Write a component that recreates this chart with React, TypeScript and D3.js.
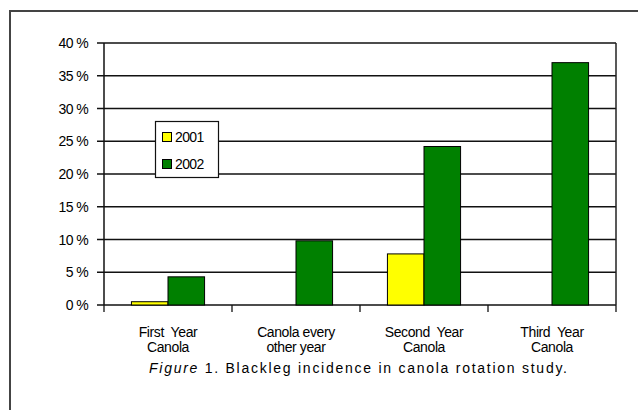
import React, { useRef, useEffect } from 'react';
import * as d3 from 'd3';

const categories = [
  ['First  Year', 'Canola'],
  ['Canola every', 'other year'],
  ['Second  Year', 'Canola'],
  ['Third  Year', 'Canola'],
];
const seriesNames = ['2001', '2002'];
const values2001 = [0.5, 0, 7.8, 0];
const values2002 = [4.3, 9.8, 24.2, 37.0];
const yTicks = [0, 5, 10, 15, 20, 25, 30, 35, 40];
const colors = ['#ffff00', '#008000'];
const caption = 'Blackleg incidence in canola rotation study.';

const W = 638;
const H = 410;
const FONT = 'Arial, "Liberation Sans", sans-serif';

const App = () => {
  const svgRef = useRef<SVGSVGElement>(null);

  useEffect(() => {
    const svg = d3.select(svgRef.current);
    svg.selectAll('*').remove();

    const left = 104, right = 616, top = 43, bottom = 305;

    const x = d3
      .scaleBand()
      .domain(categories.map((_, i) => String(i)))
      .range([left, right])
      .paddingInner(0)
      .paddingOuter(0);
    const inner = d3
      .scaleBand()
      .domain(seriesNames)
      .range([0, x.bandwidth()])
      .paddingInner(0)
      .paddingOuter(0.75);
    const y = d3.scaleLinear().domain([0, 40]).range([bottom, top]);

    // outer frame (top + left only)
    svg
      .append('path')
      .attr('d', `M10,${H} L10,11 L${W},11`)
      .attr('fill', 'none')
      .attr('stroke', '#444')
      .attr('stroke-width', 2);

    // gridlines
    svg
      .append('g')
      .selectAll('line')
      .data(yTicks)
      .join('line')
      .attr('x1', left - 7)
      .attr('x2', right)
      .attr('y1', d => y(d))
      .attr('y2', d => y(d))
      .attr('stroke', '#111')
      .attr('stroke-width', 1.3);

    // y labels
    svg
      .append('g')
      .selectAll('text')
      .data(yTicks)
      .join('text')
      .attr('x', 88)
      .attr('y', d => y(d))
      .attr('dy', '0.36em')
      .attr('text-anchor', 'end')
      .attr('font-family', FONT)
      .attr('font-size', 14)
      .attr('letter-spacing', -0.6)
      .text(d => `${d} %`);

    // bars
    const series = [values2001, values2002];
    series.forEach((vals, s) => {
      svg
        .append('g')
        .selectAll('rect')
        .data(vals.map((v, i) => ({ v, i })).filter(d => d.v > 0))
        .join('rect')
        .attr('x', d => (x(String(d.i)) as number) + (inner(seriesNames[s]) as number))
        .attr('width', inner.bandwidth())
        .attr('y', d => y(d.v))
        .attr('height', d => y(0) - y(d.v))
        .attr('fill', colors[s])
        .attr('stroke', '#000')
        .attr('stroke-width', 1);
    });

    // plot frame: left axis, right side
    svg
      .append('line')
      .attr('x1', left).attr('x2', left)
      .attr('y1', top).attr('y2', bottom)
      .attr('stroke', '#111').attr('stroke-width', 1.5);
    svg
      .append('line')
      .attr('x1', right).attr('x2', right)
      .attr('y1', top).attr('y2', bottom)
      .attr('stroke', '#222').attr('stroke-width', 1.5);

    // x ticks
    const xTickPos = categories.map((_, i) => x(String(i)) as number).concat([right]);
    svg
      .append('g')
      .selectAll('line')
      .data(xTickPos)
      .join('line')
      .attr('x1', d => d)
      .attr('x2', d => d)
      .attr('y1', bottom)
      .attr('y2', bottom + 7)
      .attr('stroke', '#111')
      .attr('stroke-width', 1.3);

    // category labels
    const catG = svg.append('g');
    categories.forEach((lines, i) => {
      const cx = (x(String(i)) as number) + x.bandwidth() / 2;
      lines.forEach((ln, j) => {
        catG
          .append('text')
          .attr('x', cx)
          .attr('y', 337 + j * 15)
          .attr('text-anchor', 'middle')
          .attr('font-family', FONT)
          .attr('font-size', 14)
          .attr('letter-spacing', -0.4)
          .attr('xml:space', 'preserve')
          .style('white-space', 'pre')
          .text(ln);
      });
    });

    // legend
    const lg = svg.append('g');
    lg.append('rect')
      .attr('x', 155.5).attr('y', 121.5)
      .attr('width', 63).attr('height', 56)
      .attr('fill', '#fff').attr('stroke', '#111').attr('stroke-width', 1.2);
    seriesNames.forEach((name, s) => {
      const cy = 137 + s * 27;
      lg.append('rect')
        .attr('x', 162.5).attr('y', cy - 4.5)
        .attr('width', 9).attr('height', 9)
        .attr('fill', colors[s]).attr('stroke', '#000').attr('stroke-width', 1);
      lg.append('text')
        .attr('x', 175).attr('y', cy)
        .attr('dy', '0.36em')
        .attr('font-family', FONT)
        .attr('font-size', 14)
        .attr('letter-spacing', -0.6)
        .text(name);
    });

    // caption
    const cap = svg
      .append('text')
      .attr('x', 149)
      .attr('y', 373)
      .attr('font-family', FONT)
      .attr('font-size', 14)
      .attr('textLength', 418)
      .attr('lengthAdjust', 'spacing');
    cap.append('tspan').attr('font-style', 'italic').text('Figure');
    cap.append('tspan').text(' 1.  ' + caption);
  }, []);

  return (
    <svg
      ref={svgRef}
      width={W}
      height={H}
      style={{ position: 'absolute', left: 0, top: 0, background: '#fff' }}
    />
  );
};

export default App;
